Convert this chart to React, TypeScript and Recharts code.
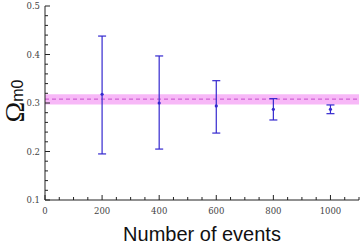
import { ComposedChart, Scatter, ErrorBar, XAxis, YAxis, ReferenceArea, ReferenceLine } from "recharts"

const events = [200, 400, 600, 800, 1000]
const omega = [0.318, 0.3, 0.294, 0.287, 0.287]
const upper = [0.438, 0.397, 0.346, 0.309, 0.296]
const lower = [0.195, 0.205, 0.238, 0.265, 0.278]

const bandLow = 0.297
const bandHigh = 0.318
const fiducial = 0.308

const xMajor = [0, 200, 400, 600, 800, 1000]
const xTicks = [0, 50, 100, 150, 200, 250, 300, 350, 400, 450, 500, 550, 600, 650, 700, 750, 800, 850, 900, 950, 1000, 1050, 1100]
const yMajor = [0.1, 0.2, 0.3, 0.4, 0.5]
const yTicks = [0.1, 0.12, 0.14, 0.16, 0.18, 0.2, 0.22, 0.24, 0.26, 0.28, 0.3, 0.32, 0.34, 0.36, 0.38, 0.4, 0.42, 0.44, 0.46, 0.48, 0.5]

const data = events.map((n, i) => ({
  n,
  omega: omega[i],
  err: [omega[i] - lower[i], upper[i] - omega[i]],
}))

const W = 360
const H = 245
const LEFT = 45
const TOP = 6
const BOTTOM = 200
const RIGHT = 359

const blue = "#3428cf"
const frame = "#222"
const tickFont = "'DejaVu Serif', 'Liberation Serif', serif"

const isMajorX = (v: number) => xMajor.includes(v)
const isMajorY = (v: number) => yMajor.some((m) => Math.abs(m - v) < 1e-6)

function BottomTick(props: any) {
  const { x, payload } = props
  const major = isMajorX(payload.value)
  return (
    <g>
      <line x1={x} x2={x} y1={BOTTOM} y2={BOTTOM - (major ? 5 : 3)} stroke={frame} />
      {major && (
        <text x={x} y={BOTTOM + 14} textAnchor="middle" fontSize={8.5} fontFamily={tickFont} fill="#444">
          {payload.value}
        </text>
      )}
    </g>
  )
}

function TopTick(props: any) {
  const { x, payload } = props
  const major = isMajorX(payload.value)
  return <line x1={x} x2={x} y1={TOP} y2={TOP + (major ? 5 : 3)} stroke={frame} />
}

function LeftTick(props: any) {
  const { y, payload } = props
  const major = isMajorY(payload.value)
  return (
    <g>
      <line x1={LEFT} x2={LEFT + (major ? 5 : 3)} y1={y} y2={y} stroke={frame} />
      {major && (
        <text x={LEFT - 5} y={y + 3} textAnchor="end" fontSize={8.5} fontFamily={tickFont} fill="#444">
          {payload.value.toFixed(1)}
        </text>
      )}
    </g>
  )
}

function RightTick(props: any) {
  const { y, payload } = props
  const major = isMajorY(payload.value)
  return <line x1={RIGHT} x2={RIGHT - (major ? 5 : 3)} y1={y} y2={y} stroke={frame} />
}

function YLabel() {
  return (
    <text transform="translate(24,101) rotate(-90)" textAnchor="middle" fill="#111">
      <tspan fontSize={28} fontFamily="'Liberation Serif', serif">Ω</tspan>
      <tspan fontSize={16} fontFamily="'Liberation Sans', Arial, sans-serif" dy={-1}>m0</tspan>
    </text>
  )
}

function Dot(props: any) {
  const { cx, cy } = props
  return <circle cx={cx} cy={cy} r={1.6} fill={blue} />
}

export default function App() {
  return (
    <div style={{ position: "absolute", left: 0, top: 0, width: W, height: H, background: "#fff" }}>
      <ComposedChart width={W} height={H} data={data} margin={{ top: TOP, right: W - RIGHT, bottom: 0, left: 0 }}>
        <XAxis
          xAxisId="bottom"
          dataKey="n"
          type="number"
          domain={[0, 1100]}
          ticks={xTicks}
          interval={0}
          height={H - BOTTOM}
          axisLine={{ stroke: frame }}
          tickLine={false}
          tick={<BottomTick />}
          label={{
            value: "Number of events",
            position: "insideBottom",
            offset: 4,
            style: { fontSize: 20, fontFamily: "'Liberation Sans', Arial, sans-serif", fill: "#111" },
          }}
        />
        <XAxis
          xAxisId="top"
          orientation="top"
          dataKey="n"
          type="number"
          domain={[0, 1100]}
          ticks={xTicks}
          interval={0}
          height={0}
          axisLine={{ stroke: frame }}
          tickLine={false}
          tick={<TopTick />}
        />
        <YAxis
          yAxisId="left"
          type="number"
          domain={[0.1, 0.5]}
          ticks={yTicks}
          interval={0}
          width={LEFT}
          allowDataOverflow
          axisLine={{ stroke: frame }}
          tickLine={false}
          tick={<LeftTick />}
          label={{ content: <YLabel /> }}
        />
        <YAxis
          yAxisId="right"
          orientation="right"
          type="number"
          domain={[0.1, 0.5]}
          ticks={yTicks}
          interval={0}
          width={0}
          axisLine={{ stroke: frame }}
          tickLine={false}
          tick={<RightTick />}
        />
        <ReferenceArea xAxisId="bottom" yAxisId="left" y1={bandLow} y2={bandHigh} fill="#f7b8f7" fillOpacity={1} stroke="none" ifOverflow="hidden" />
        <ReferenceLine xAxisId="bottom" yAxisId="left" y={fiducial} stroke="#c64ccc" strokeDasharray="4 3" strokeWidth={1} />
        <Scatter xAxisId="bottom" yAxisId="left" dataKey="omega" fill={blue} shape={<Dot />} isAnimationActive={false}>
          <ErrorBar dataKey="err" direction="y" width={4} stroke={blue} strokeWidth={1.2} isAnimationActive={false} />
        </Scatter>
      </ComposedChart>
    </div>
  )
}
